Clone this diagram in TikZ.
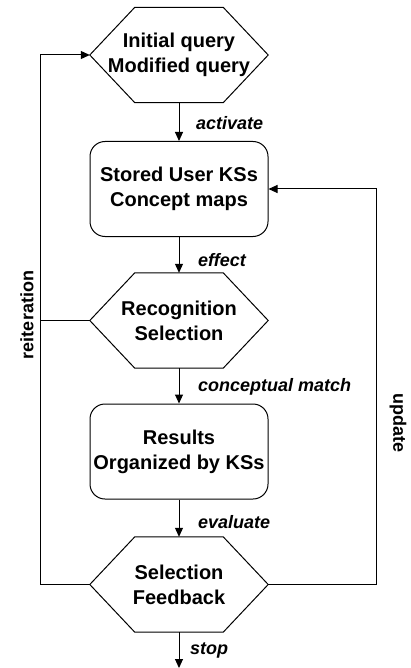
\documentclass[tikz,border=0pt]{standalone}
\usepackage{fontspec}
\setmainfont{Liberation Sans}
\usetikzlibrary{arrows.meta}
\tikzset{
  every picture/.style={x=1pt,y=-1pt},
  shapebox/.style={minimum width=178pt,minimum height=95pt,inner sep=0pt,align=center,
    font=\fontsize{20}{25}\selectfont\bfseries},
  roundbox/.style={shapebox,draw,line width=1pt,rounded corners=15pt},
  hexbox/.style={shapebox},
  hexline/.style={line width=1pt,line join=miter},
  lbl/.style={anchor=west,inner sep=0pt,font=\fontsize{18}{20}\selectfont\bfseries\itshape},
  sidelbl/.style={inner sep=0pt,font=\fontsize{18}{20}\selectfont\bfseries},
  arr/.style={line width=1pt,-{Triangle[length=9pt,width=8pt]}},
  ln/.style={line width=1pt}
}
\newcommand{\hexdraw}[1]{%
  \draw[hexline] (#1.west) -- ([xshift=45pt]#1.north west) -- ([xshift=-45pt]#1.north east)
   -- (#1.east) -- ([xshift=-45pt]#1.south east) -- ([xshift=45pt]#1.south west) -- cycle;}
\begin{document}
\begin{tikzpicture}
\useasboundingbox (0,0) rectangle (411,668);
\node[hexbox] (h1) at (179,55) {Initial query\\Modified query};
\node[roundbox] (b1) at (179,189) {Stored User KSs\\Concept maps};
\node[hexbox] (h2) at (179,320.5) {Recognition\\Selection};
\node[roundbox] (b2) at (179,451.5) {Results\\Organized by KSs};
\node[hexbox] (h3) at (179,584.5) {Selection\\Feedback};
\hexdraw{h1}
\hexdraw{h2}
\hexdraw{h3}
\coordinate (L) at (40,0);
\coordinate (R) at (376,0);
\coordinate (E) at (179,668);
\draw[arr] (h1.south) -- (b1.north);
\draw[arr] (b1.south) -- (h2.north);
\draw[arr] (h2.south) -- (b2.north);
\draw[arr] (b2.south) -- (h3.north);
\draw[arr] (h3.south) -- (E);
\draw[arr] (h3.west) -- (h3.west -| L) |- (h1.west);
\draw[ln] (h2.west) -- (h2.west -| L);
\draw[arr] (h3.east) -- (h3.east -| R) |- (b1.east);
\node[lbl] (l1) at (196,123) {activate};
\node[lbl] (l2) at (198,260) {effect};
\node[lbl] (l3) at (198,387) {conceptual match};
\node[lbl] (l4) at (198,522) {evaluate};
\node[lbl] (l5) at (190,650) {stop};
\node[sidelbl,rotate=90] (rl) at (27,315) {reiteration};
\node[sidelbl,rotate=-90] (ul) at (398,423) {update};
\end{tikzpicture}
\end{document}
